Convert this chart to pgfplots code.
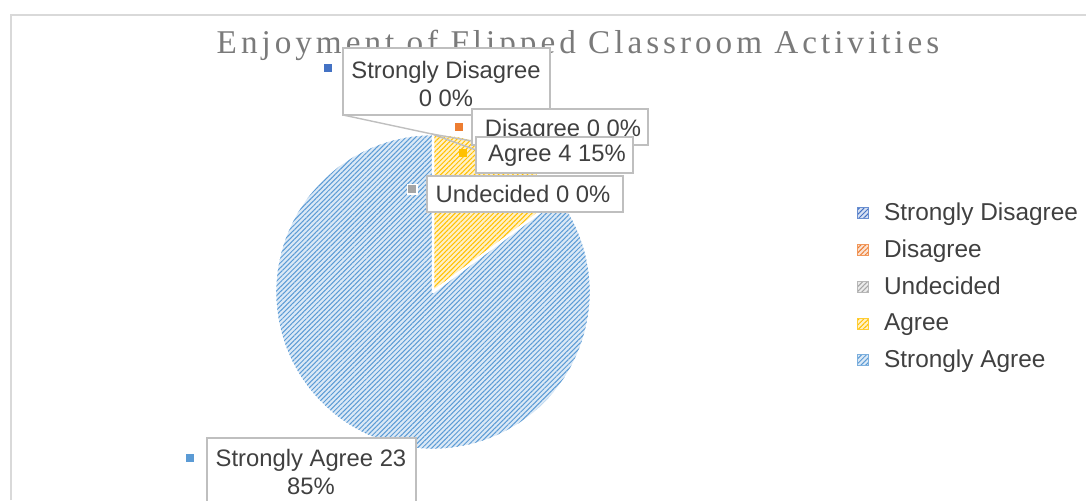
\documentclass[border=0pt]{standalone}
\usepackage{pgfplots}
\pgfplotsset{compat=1.18}
\usepackage{pgfplotstable}
\usepackage{fontspec}
\setmainfont{Liberation Sans}
\newfontfamily\titlefont[LetterSpace=12]{Liberation Serif}
\usetikzlibrary{patterns.meta}

\definecolor{csd}{HTML}{4472C4}
\definecolor{cd}{HTML}{ED7D31}
\definecolor{cu}{HTML}{A5A5A5}
\definecolor{ca}{HTML}{FFC000}
\definecolor{csa}{HTML}{5B9BD5}
\definecolor{txt}{HTML}{404040}
\definecolor{frame}{HTML}{D9D9D9}
\definecolor{lbl}{HTML}{BFBFBF}

% survey answers, counts
\pgfplotstableread{
label value
SD 0
D 0
U 0
A 4
SA 23
}\responses

\tikzset{
  hatch/.style={fill=#1!22, postaction={pattern={Lines[angle=45,distance=1.7pt,line width=0.5pt]}, pattern color=#1}},
  lblbox/.style={draw=lbl, fill=white, line width=0.7pt, inner sep=0pt},
  lbltext/.style={text=txt, align=center, inner sep=0pt, font=\fontsize{11.9}{14.2}\selectfont},
  key/.style={fill=#1, minimum size=3.6pt, inner sep=0pt},
}

\begin{document}
\begin{tikzpicture}
\pgfplotstablegetelem{3}{value}\of\responses \let\vA\pgfplotsretval
\pgfplotstablegetelem{4}{value}\of\responses \let\vSA\pgfplotsretval
\pgfmathsetmacro{\tot}{\vA+\vSA}
\pgfmathsetmacro{\aA}{90-360*\vA/\tot}
\useasboundingbox (0,0) rectangle (543pt,250pt);
\begin{axis}[
  at={(0,0)}, anchor=south west,
  scale only axis, width=543pt, height=250pt,
  xmin=0, xmax=1086, ymin=0, ymax=500, y dir=reverse,
  hide axis,
  legend style={at={(0.789,0.603)}, anchor=north west, draw=none, fill=none,
    font=\fontsize{12.2}{14}\selectfont, text=txt, row sep=4.15pt,
    inner sep=0pt, nodes={inner sep=2pt},
    /tikz/every odd column/.append style={column sep=5.5pt}},
  legend cell align=left,
  legend image code/.code={\path[#1] (0pt,-2.75pt) rectangle (5.5pt,2.75pt);},
]
  % chart frame (right and bottom edges lie outside the picture)
  \draw[frame, line width=1.2pt] (11,500) -- (11,15) -- (1086,15);

  % pie slices
  \addplot[forget plot, hatch=ca, draw=white, line width=1.2pt, line join=round, domain=\aA:90, samples=40]
    ({433+158*cos(x)}, {292-158*sin(x)}) -- (433,292) -- cycle;
  \addplot[forget plot, hatch=csa, draw=white, line width=1.2pt, line join=round, domain=-270:\aA, samples=150]
    ({433+158*cos(x)}, {292-158*sin(x)}) -- (433,292) -- cycle;

  \addlegendimage{hatch=csd, draw=csd!80}
  \addlegendentry{Strongly Disagree}
  \addlegendimage{hatch=cd, draw=cd!80}
  \addlegendentry{Disagree}
  \addlegendimage{hatch=cu, draw=cu!80}
  \addlegendentry{Undecided}
  \addlegendimage{hatch=ca, draw=ca!80}
  \addlegendentry{Agree}
  \addlegendimage{hatch=csa, draw=csa!80}
  \addlegendentry{Strongly Agree}

  % title
  \node[text=black!52, font=\titlefont\fontsize{16.6}{18}\selectfont] at (578,45)
    {Enjoyment of Flipped Classroom Activities};

  % data labels
  \draw[lbl, line width=0.7pt] (432,134) -- (476,150);
  \draw[lbl, line width=0.7pt] (432,134) -- (472,141);
  \draw[lbl, line width=0.7pt] (343,115) -- (432,134);
  \node[lblbox, minimum width=103.5pt, minimum height=33.5pt] at (446.5,81.5) {};
  \node[lbltext] at (446,84) {Strongly Disagree\\0 0\%};
  \node[key=csd] at (328,68) {};
  \node[lblbox, minimum width=88pt, minimum height=18pt] at (560,127) {};
  \node[lbltext] at (563,130) {Disagree 0 0\%};
  \node[key=cd] at (459,127) {};
  \node[lblbox, minimum width=78.5pt, minimum height=18pt] at (554.5,155) {};
  \node[lbltext] at (557,156) {Agree 4 15\%};
  \node[key=ca] at (463,153) {};
  \node[lblbox, minimum width=98pt, minimum height=18pt] at (525,194) {};
  \node[lbltext] at (523,194) {Undecided 0 0\%};
  \node[fill=white, minimum size=5.5pt, inner sep=0pt] at (412,189) {};
  \node[key=cu] at (412,189) {};
  \node[lblbox, minimum width=104.5pt, minimum height=38pt] at (311.5,476) {};
  \node[lbltext] at (311,472) {Strongly Agree 23\\85\%};
  \node[key=csa] at (190,458) {};
\end{axis}
\end{tikzpicture}
\end{document}
